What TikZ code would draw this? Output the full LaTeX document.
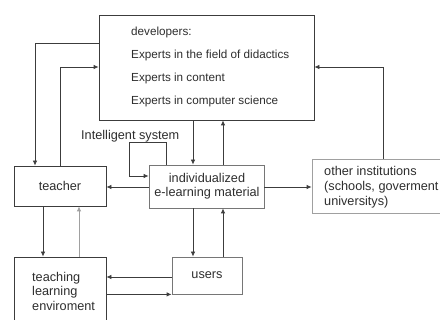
\documentclass[tikz,border=0pt]{standalone}
\usepackage{fontspec}
\setmainfont{Liberation Sans}
\usetikzlibrary{arrows.meta}
\definecolor{ln}{HTML}{3C3C3C}
\definecolor{lt}{HTML}{A0A0A0}
\definecolor{tx}{HTML}{2E2E2E}
\tikzset{
  box/.style={draw=ln, line width=0.8pt, fill=white, inner sep=0pt},
  lbox/.style={box, draw=lt},
  mbox/.style={box, draw=ln!70},
  lbl/.style={text=tx, font=\fontsize{12.7}{14.5}\selectfont, inner sep=0pt},
  arr/.style={draw=ln, line width=0.8pt, -{Latex[length=5pt,width=4.5pt]}},
  con/.style={draw=ln, line width=0.8pt},
}
\begin{document}
\begin{tikzpicture}[x=1pt,y=-1pt]
\useasboundingbox (0,0) rectangle (440,320);
\clip (0,0) rectangle (440,320);
\fill[white] (0,0) rectangle (440,320);
% boxes
\node[box, minimum width=215pt, minimum height=105pt] (dev) at (206.5,67.5) {};
\node[lbl, anchor=west, align=left, font=\fontsize{11.7}{23.3}\selectfont] (devtxt) at (131,67) {developers:\\Experts in the field of didactics\\Experts in content\\Experts in computer science};
\node[box, minimum width=92pt, minimum height=40pt] (teacher) at (60,186) {};
\node[lbl] (teachertxt) at (60,186) {teacher};
\node[mbox, minimum width=115pt, minimum height=43pt] (indiv) at (206.5,186.5) {};
\node[lbl, align=center] (indivtxt) at (207,186) {individualized\\e-learning material};
\node[lbox, minimum width=160pt, minimum height=54pt] (other) at (392,186) {};
\node[lbl, anchor=west, align=left, font=\fontsize{12.7}{15}\selectfont] (othertxt) at (324,187) {other institutions\\(schools, goverment\\universitys)};
\node[mbox, minimum width=70pt, minimum height=37pt] (users) at (207,275.5) {};
\node[lbl] (userstxt) at (207,275) {users};
\node[box, minimum width=92pt, minimum height=68pt] (teach) at (60,291) {};
\node[lbl, anchor=west, align=left] (teachtxt) at (32,291) {teaching\\learning\\enviroment};
\node[lbl, anchor=west] (intel) at (81,136) {Intelligent system};
% helper coordinates
\coordinate (a1) at (35,43);
\coordinate (a2) at (60,67);
\coordinate (a3) at (383,67);
\coordinate (b1) at (193,0);
\coordinate (b2) at (223,0);
\coordinate (c1) at (129,142);
\coordinate (c2) at (166,176);
\coordinate (d1) at (0,187);
\coordinate (e1) at (43,0);
\coordinate (e2) at (79,0);
\coordinate (f1) at (0,277);
% connectors
\draw[arr] (dev.west |- a1) -| (teacher.north -| a1);
\draw[arr] (teacher.north -| a2) |- (dev.west |- a2);
\draw[arr] (other.north -| a3) |- (dev.east |- a3);
\draw[arr] (dev.south -| b1) -- (indiv.north -| b1);
\draw[arr] (indiv.north -| b2) -- (dev.south -| b2);
\draw[arr] (indiv.north -| c2) |- (c1) |- (indiv.west |- c2);
\draw[arr] (indiv.west |- d1) -- (teacher.east |- d1);
\draw[arr] (indiv.east |- d1) -- (other.west |- d1);
\draw[arr] (teacher.south -| e1) -- (teach.north -| e1);
\draw[arr, draw=lt] (teach.north -| e2) -- (teacher.south -| e2);
\draw[arr] (indiv.south -| b1) -- (users.north -| b1);
\draw[arr] (users.north -| b2) -- (indiv.south -| b2);
\draw[arr] (users.west |- f1) -- (teach.east |- f1);
\draw[arr] (teach.east |- users.south) -- (users.south west);
\end{tikzpicture}
\end{document}
